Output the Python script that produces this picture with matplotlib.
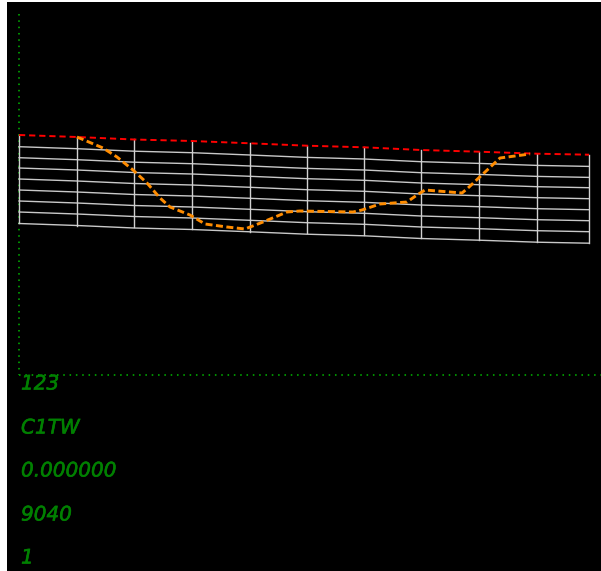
import matplotlib
matplotlib.use('Agg')
import matplotlib.pyplot as plt
import matplotlib.patheffects as pe

# stations along the section (pixel-like units)
stations = [19, 77, 134, 192, 250, 307, 364, 421, 479, 537, 589]
top_line = [135, 137, 139.5, 141, 143.3, 145.7, 147.3, 150, 151.7, 153.7, 154.7]
bottom_line = [223, 226, 227.3, 229.3, 231.7, 233.3, 235.3, 238.3, 240, 241.7, 243.5]

# depth of each layer below the top line
layer_depths = [11.7, 22.7, 33, 44, 55, 66, 77, 88.5]

# orange profile
profile_x = [77, 103, 117, 133, 147, 160, 170, 190, 205, 227, 245, 263, 287, 300,
             353, 362, 380, 407, 417, 425, 462, 468, 500, 530]
profile_y = [137, 148, 157, 170, 183, 198, 207, 215, 224, 227, 229, 222, 212, 211,
             212, 210, 204, 202, 195, 190, 193, 188, 158, 154]

info_lines = ['123', 'C1TW', '0.000000', '9040', '1']
info_y = [384, 428, 471, 515, 558]

axis_x = 19
axis_y = 375
axis_top = 14

W, H = 601, 571

fig = plt.figure(figsize=(W / 100, H / 100), dpi=100, facecolor='white')
# black area starts a few pixels in from the left and the top
ax = fig.add_axes([7 / W, 0, (W - 7) / W, (H - 2) / H])
ax.set_facecolor('black')
ax.set_xlim(7, W)
ax.set_ylim(H, 2)
ax.set_xticks([])
ax.set_yticks([])
for s in ax.spines.values():
    s.set_visible(False)

# green dotted axes
dots = (0, (0.8, 2.45))
ax.plot([axis_x, axis_x], [axis_top, axis_y], color='#009000', lw=1.4, ls=dots, dash_capstyle='butt')
ax.plot([axis_x, W], [axis_y, axis_y], color='#009000', lw=1.4, ls=dots, dash_capstyle='butt')

# layer lines
for d in layer_depths:
    ys = [t + d for t in top_line]
    ax.plot(stations, ys, color='#c8c8c8', lw=1)

# vertical station lines
for i in range(len(stations)):
    ax.plot([stations[i], stations[i]], [top_line[i], bottom_line[i]], color='#d0d0d0', lw=1)

# red top line and orange profile
ax.plot(stations, top_line, color='#ff0000', lw=1.4, ls=(0, (3.2, 2)))
ax.plot(profile_x, profile_y, color='#ff8c00', lw=2.1, ls=(0, (2.4, 1.2)))

# green text block
for txt, y in zip(info_lines, info_y):
    ax.text(21, y, txt, color='#008000', fontsize=14.4, style='italic', va='center', ha='left',
            path_effects=[pe.withStroke(linewidth=0.4, foreground='#008000')])

fig.savefig('out.png', dpi=100, facecolor='white')
